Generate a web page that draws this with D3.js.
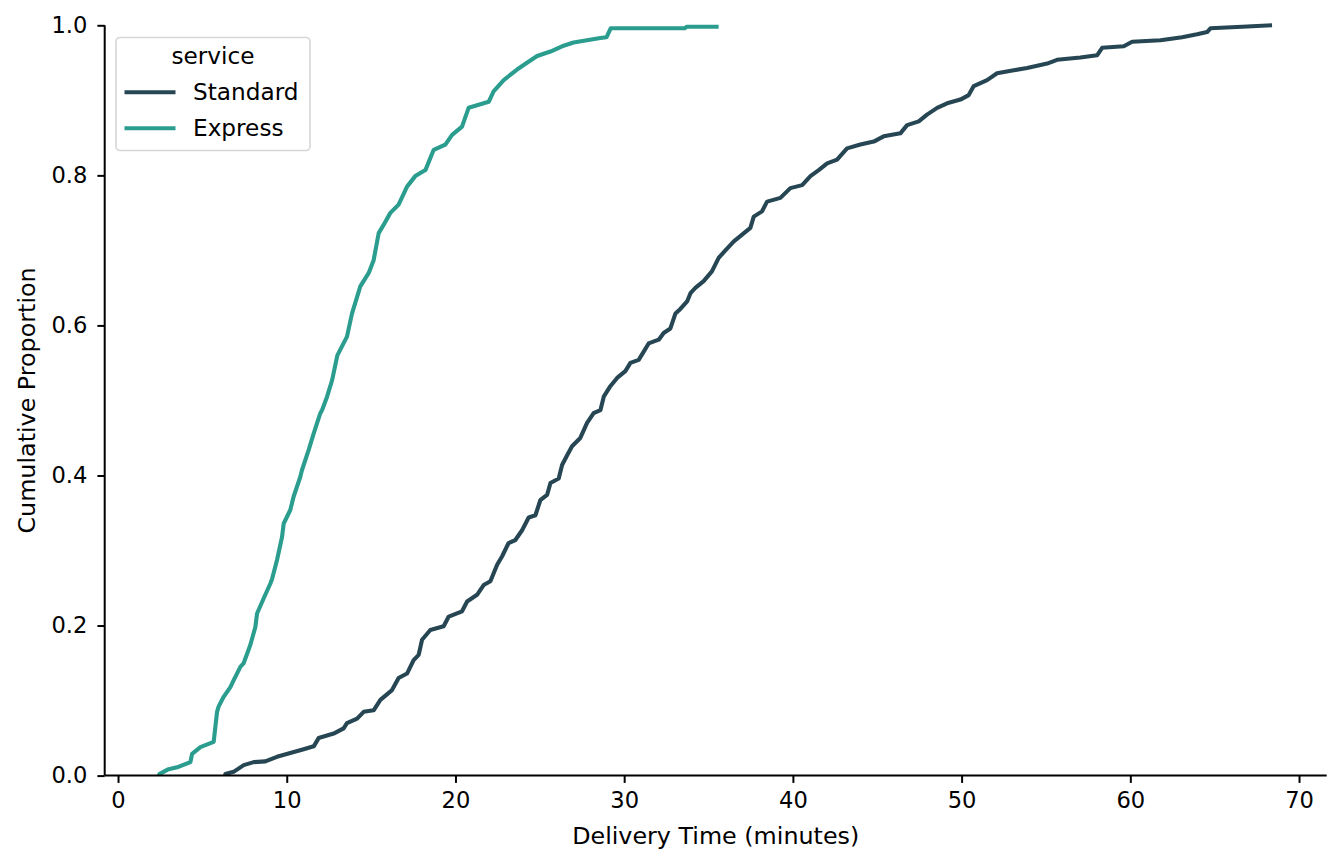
<!DOCTYPE html>
<html>
<head>
<meta charset="utf-8">
<script src="https://cdn.jsdelivr.net/npm/d3@7"></script>
<style>
    body { margin: 0; background: #ffffff; }
    svg { display: block; font-family: "DejaVu Sans", sans-serif; }
    .tickLabel { font-size: 22.6px; fill: #000; }
    .axesLabel { font-size: 23.8px; fill: #000; }
    .legendText { font-size: 23.2px; fill: #000; }
</style>
</head>
<body>
<script>

const services = ["Standard", "Express"];
const serviceColors = ["#264653", "#2a9d8f"];

const standardTimes = [6.36, 6.85, 7.45, 8.04, 8.73, 9.42, 10.21, 11.0, 11.6, 11.89, 12.78, 13.37, 13.57, 14.17, 14.56,
    15.15, 15.55, 16.24, 16.63, 17.13, 17.52, 17.82, 18.02, 18.51, 19.3, 19.6, 20.39, 20.69, 21.28, 21.67, 22.07, 22.47,
    22.76, 23.15, 23.55, 23.95, 24.34, 24.74, 25.03, 25.43, 25.63, 26.12, 26.32, 26.62, 26.91, 27.4, 27.8, 28.19, 28.59,
    28.79, 29.18, 29.58, 30.07, 30.37, 30.86, 31.16, 31.45, 32.05, 32.34, 32.74, 33.04, 33.33, 33.73, 33.93, 34.22, 34.71,
    35.2, 35.6, 36.0, 36.5, 36.99, 37.48, 37.68, 38.17, 38.47, 39.26, 39.85, 40.55, 41.04, 41.53, 42.03, 42.62, 43.21,
    44.0, 44.79, 45.38, 46.37, 46.77, 47.46, 47.95, 48.55, 49.14, 49.93, 50.42, 50.72, 51.51, 52.1, 53.09, 53.88, 54.48,
    55.07, 55.66, 57.04, 58.03, 58.33, 59.61, 60.11, 61.79, 63.07, 63.96, 64.55, 64.75, 66.63, 68.4];
const standardProps = [0.002, 0.005, 0.014, 0.018, 0.019, 0.025, 0.030, 0.035, 0.039, 0.050, 0.056, 0.063, 0.070, 0.076, 0.085,
    0.087, 0.101, 0.114, 0.130, 0.136, 0.154, 0.161, 0.181, 0.194, 0.199, 0.212, 0.219, 0.232, 0.241, 0.254, 0.259, 0.281,
    0.292, 0.310, 0.314, 0.327, 0.344, 0.347, 0.367, 0.374, 0.390, 0.396, 0.414, 0.427, 0.439, 0.450, 0.470, 0.483, 0.487,
    0.505, 0.519, 0.530, 0.539, 0.550, 0.554, 0.565, 0.576, 0.581, 0.590, 0.596, 0.616, 0.622, 0.632, 0.643, 0.650, 0.659,
    0.672, 0.690, 0.700, 0.712, 0.721, 0.730, 0.745, 0.752, 0.765, 0.770, 0.783, 0.787, 0.799, 0.807, 0.816, 0.821, 0.836,
    0.841, 0.845, 0.852, 0.856, 0.867, 0.872, 0.881, 0.890, 0.896, 0.901, 0.907, 0.919, 0.927, 0.936, 0.940, 0.943, 0.946,
    0.949, 0.954, 0.957, 0.960, 0.970, 0.972, 0.978, 0.980, 0.984, 0.988, 0.991, 0.996, 0.998, 1.0];

const expressTimes = [2.45, 2.94, 3.5, 4.29, 4.39, 4.88, 5.67, 5.87, 5.96, 6.26, 6.66, 6.85, 7.25, 7.45, 7.84, 8.14, 8.24,
    8.63, 9.03, 9.13, 9.42, 9.72, 9.82, 10.21, 10.41, 10.8, 10.9, 11.3, 11.6, 11.99, 12.09, 12.39, 12.69, 13.0, 13.57,
    13.87, 14.36, 14.86, 15.15, 15.45, 15.74, 16.14, 16.63, 17.13, 17.62, 18.22, 18.71, 19.4, 19.8, 20.39, 20.78, 21.38,
    21.97, 22.26, 22.86, 23.65, 24.24, 24.84, 25.63, 26.32, 27.0, 27.8, 28.59, 28.95, 29.2, 33.6, 33.7, 35.6];
const expressProps = [0.002, 0.008, 0.011, 0.018, 0.029, 0.038, 0.045, 0.085, 0.092, 0.105, 0.118, 0.127, 0.145, 0.150, 0.174,
    0.198, 0.216, 0.236, 0.256, 0.262, 0.287, 0.318, 0.336, 0.354, 0.372, 0.398, 0.407, 0.434, 0.456, 0.483, 0.487, 0.505,
    0.527, 0.560, 0.585, 0.616, 0.652, 0.670, 0.687, 0.723, 0.734, 0.750, 0.761, 0.785, 0.799, 0.807, 0.834, 0.841, 0.854,
    0.865, 0.890, 0.894, 0.898, 0.912, 0.927, 0.941, 0.950, 0.959, 0.965, 0.972, 0.977, 0.980, 0.983, 0.984, 0.996, 0.996,
    0.998, 0.998];

const xTicks = [0, 10, 20, 30, 40, 50, 60, 70];
const yTicks = [0, 0.2, 0.4, 0.6, 0.8, 1.0];

// CONSTANTS

const width = 1342;
const height = 866;
const plotLeft = 104.7, plotRight = 1326.7, plotTop = 25.3, plotBottom = 775.6;
const tickSize = 7.3;
const lineWidth = 4.1;

// HELPERS

// pair up the time / proportion arrays, starting the curve at zero at the first time
function toPoints(times, props) {
    const pts = [{ t: times[0], p: 0 }];
    for (let i = 0; i < times.length; i++) {
        pts.push({ t: times[i], p: props[i] });
    }
    return pts;
}

const series = [
    { name: services[0], color: serviceColors[0], points: toPoints(standardTimes, standardProps) },
    { name: services[1], color: serviceColors[1], points: toPoints(expressTimes, expressProps) }
];

// D3 LOGIC

const svg = d3.select("body")
    .append("svg")
    .attr("width", width)
    .attr("height", height);

const x = d3.scaleLinear()
    .domain([-0.79, 71.64])
    .range([plotLeft, plotRight]);

const y = d3.scaleLinear()
    .domain([0, 1])
    .range([plotBottom, plotTop]);

// curves (clipped to the axes box)
svg.append("clipPath")
    .attr("id", "plotClip")
    .append("rect")
    .attr("x", plotLeft).attr("y", plotTop - 4)
    .attr("width", plotRight - plotLeft).attr("height", plotBottom - plotTop + 4);

// the real steps are ~1.5px tall, so the sampled points are joined straight
const line = d3.line()
    .x(d => x(d.t))
    .y(d => y(d.p))
    .curve(d3.curveLinear);

svg.append("g")
    .attr("clip-path", "url(#plotClip)")
    .selectAll("path")
    .data(series)
    .enter()
    .append("path")
    .attr("d", d => line(d.points))
    .attr("fill", "none")
    .attr("stroke", d => d.color)
    .attr("stroke-width", lineWidth)
    .attr("stroke-linejoin", "round")
    .attr("stroke-linecap", "butt");

// x axis
const xAxis = svg.append("g")
    .attr("transform", `translate(0,${plotBottom})`)
    .call(d3.axisBottom(x).tickValues(xTicks).tickSize(tickSize).tickPadding(9).tickFormat(d3.format("d")));

// y axis
const yAxis = svg.append("g")
    .attr("transform", `translate(${plotLeft},0)`)
    .call(d3.axisLeft(y).tickValues(yTicks).tickSize(tickSize).tickPadding(10).tickFormat(d3.format(".1f")));

[xAxis, yAxis].forEach(function (ax) {
    ax.attr("font-family", null).attr("font-size", null);
    ax.select(".domain").attr("stroke", "#000").attr("stroke-width", 2);
    ax.selectAll(".tick line").attr("stroke", "#000").attr("stroke-width", 2);
    ax.selectAll(".tick text").attr("class", "tickLabel");
});

// d3 draws the domain with outer ticks, replace it with plain spines
xAxis.select(".domain").attr("d", `M${plotLeft},0H${plotRight}`);
yAxis.select(".domain").attr("d", `M0,${plotBottom}V${plotTop}`);

// axis labels
svg.append("text")
    .attr("class", "axesLabel")
    .attr("text-anchor", "middle")
    .attr("x", (plotLeft + plotRight) / 2)
    .attr("y", 844)
    .text("Delivery Time (minutes)");

svg.append("text")
    .attr("class", "axesLabel")
    .attr("text-anchor", "middle")
    .attr("transform", `translate(35,${(plotTop + plotBottom) / 2}) rotate(-90)`)
    .text("Cumulative Proportion");

// legend
const legend = svg.append("g");

legend.append("rect")
    .attr("x", 116)
    .attr("y", 37.5)
    .attr("width", 194)
    .attr("height", 113)
    .attr("rx", 4)
    .attr("fill", "#ffffff")
    .attr("fill-opacity", 0.8)
    .attr("stroke", "#d6d6d6")
    .attr("stroke-width", 1.6);

legend.append("text")
    .attr("class", "legendText")
    .attr("text-anchor", "middle")
    .attr("x", 213)
    .attr("y", 64)
    .text("service");

const entries = legend.selectAll(".entry")
    .data(series)
    .enter()
    .append("g")
    .attr("class", "entry")
    .attr("transform", (d, i) => `translate(0,${92.3 + i * 36})`);

entries.append("line")
    .attr("x1", 124.5).attr("x2", 175.5)
    .attr("y1", 0).attr("y2", 0)
    .attr("stroke", d => d.color)
    .attr("stroke-width", lineWidth);

entries.append("text")
    .attr("class", "legendText")
    .attr("x", 193)
    .attr("y", 8)
    .text(d => d.name);
</script>
</body>
</html>
